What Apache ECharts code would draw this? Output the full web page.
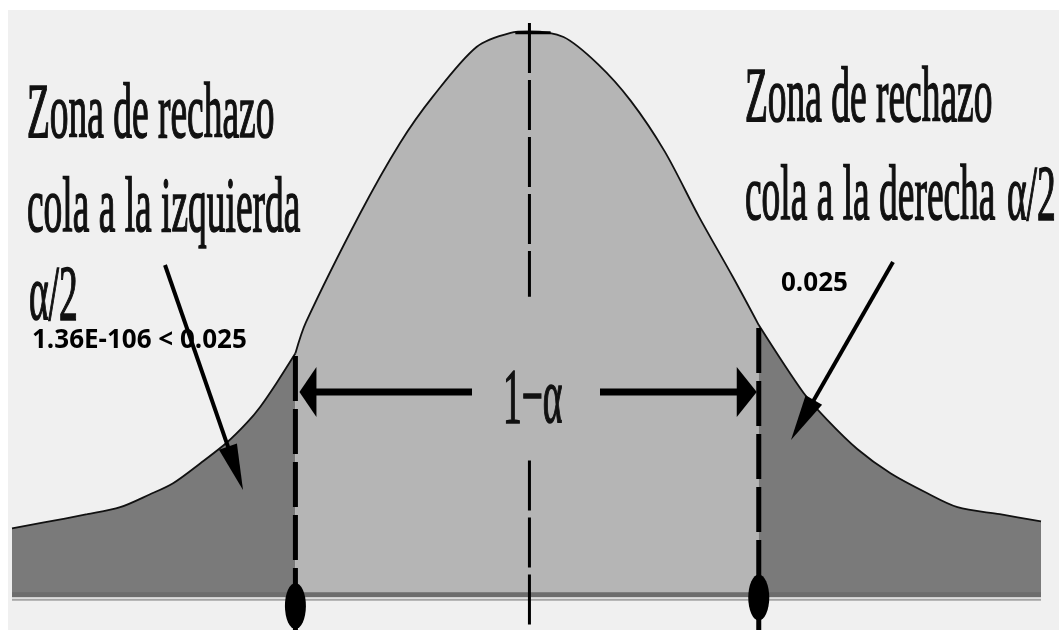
<!DOCTYPE html>
<html><head><meta charset="utf-8">
<script src="https://cdn.jsdelivr.net/npm/echarts@6/dist/echarts.min.js"></script>
<style>
html,body{margin:0;padding:0;background:#fff;}
#bg{position:absolute;left:8px;top:10px;width:1051px;height:620px;background:#f0f0f0;}
#chart{position:absolute;left:0;top:0;width:1059px;height:630px;}
</style></head><body>
<div id="bg"></div><div id="chart"></div>
<script>
// Curve (z units, density-like height)
const zValues = [-4.40,-4.14,-3.76,-3.48,-3.23,-3.03,-2.80,-2.57,-2.40,-2.29,-2.15,-1.99,-1.90,-1.44,-1.10,-0.82,-0.45,-0.16,0,0.29,0.58,0.86,1.15,1.44,1.73,1.95,2.33,2.53,2.79,3.07,3.38,3.64,4.00,4.35];
const density = [0.047,0.051,0.057,0.062,0.071,0.079,0.093,0.108,0.122,0.133,0.150,0.171,0.193,0.270,0.320,0.353,0.388,0.398,0.399,0.395,0.376,0.350,0.314,0.268,0.225,0.191,0.143,0.124,0.103,0.086,0.072,0.062,0.057,0.052];
const criticalValues = [-1.99, 1.95];
const dotLevels = [-0.008, -0.002];
const centerLineSpans = [[0.405, 0.211], [0.095, -0.025]];
const peakTick = [-0.12, 0.18];
const tailValueLabels = ['1.36E-106 < 0.025', '0.025'];
const zoneTitle = 'Zona de rechazo';
const leftTailText = 'cola a la izquierda';
const rightTailText = 'cola a la derecha';
const halfAlpha = 'α/2';
const centerText = '1−α';

const pts = zValues.map((z, i) => [z, density[i]]);
const leftPts = pts.filter(p => p[0] <= criticalValues[0]);
const midPts = pts.filter(p => p[0] >= criticalValues[0] && p[0] <= criticalValues[1]);
const rightPts = pts.filter(p => p[0] >= criticalValues[1]);
const yAt = z => density[zValues.indexOf(z)];

const chart = echarts.init(document.getElementById('chart'), null, {renderer: 'canvas'});
const curveLine = {color: '#111', width: 1.8};
const series = [
  {type: 'line', data: leftPts, smooth: 0.3, symbol: 'none', lineStyle: curveLine, areaStyle: {color: '#7a7a7a', opacity: 1}, z: 2},
  {type: 'line', data: midPts, smooth: 0.3, symbol: 'none', lineStyle: curveLine, areaStyle: {color: '#b5b5b5', opacity: 1}, z: 2},
  {type: 'line', data: rightPts, smooth: 0.3, symbol: 'none', lineStyle: curveLine, areaStyle: {color: '#7a7a7a', opacity: 1}, z: 2},
  {type: 'line', data: [[zValues[0], 0], [zValues[zValues.length-1], 0]], symbol: 'none', lineStyle: {color: '#6d6d6d', width: 5}, z: 3},
  {type: 'line', data: [[zValues[0], -0.0035], [zValues[zValues.length-1], -0.0035]], symbol: 'none', lineStyle: {color: '#a5a5a5', width: 2}, z: 3}
];
criticalValues.forEach((c, i) => {
  series.push({type: 'line', data: [[c, yAt(c) - 0.002], [c, -0.025]], symbol: 'none', clip: false,
    lineStyle: {color: '#000', width: 5, type: [45, 8]}, z: 5});
  series.push({type: 'scatter', data: [[c, dotLevels[i]]], symbol: 'circle', symbolSize: [21, 46],
    itemStyle: {color: '#000', opacity: 1}, z: 6});
});
centerLineSpans.forEach(s => {
  series.push({type: 'line', data: [[0, s[0]], [0, s[1]]], symbol: 'none', clip: false,
    lineStyle: {color: '#000', width: 3, type: [50, 7]}, z: 5});
});
series.push({type: 'line', data: [[peakTick[0], 0.398], [peakTick[1], 0.398]], symbol: 'none', clip: false,
  lineStyle: {color: '#000', width: 3}, z: 5});

chart.setOption({
  animation: false,
  backgroundColor: 'transparent',
  grid: {left: 12, right: 18, top: 30, bottom: 0},
  xAxis: {type: 'value', min: -4.4, max: 4.35, show: false},
  yAxis: {type: 'value', min: -0.025, max: 0.4, show: false},
  series: series
});

function arrowEls(x1, y1, x2, y2, w, headLen, headW) {
  const dx = x2 - x1, dy = y2 - y1, L = Math.hypot(dx, dy);
  const ux = dx / L, uy = dy / L, px = -uy, py = ux;
  const bx = x2 - ux * headLen, by = y2 - uy * headLen;
  return [
    {type: 'line', z: 50, silent: true, shape: {x1: x1, y1: y1, x2: bx + ux * 2, y2: by + uy * 2}, style: {stroke: '#000', lineWidth: w}},
    {type: 'polygon', z: 50, silent: true, shape: {points: [[x2, y2], [bx + px * headW / 2, by + py * headW / 2], [bx - px * headW / 2, by - py * headW / 2]]}, style: {fill: '#000'}}
  ];
}
const serifFont = '78px "Liberation Serif", "DejaVu Serif", serif';
function serifText(txt, x, y) {
  return {type: 'text', z: 60, silent: true, x: x, y: y, scaleX: 0.48,
    style: {text: txt, font: serifFont, fill: '#111', stroke: '#111', lineWidth: 1.6, textAlign: 'left', verticalAlign: 'middle'}};
}
function sansText(txt, x, y) {
  return {type: 'text', z: 60, silent: true, x: x, y: y,
    style: {text: txt, font: 'bold 26px "Open Sans", Lato, sans-serif', fill: '#000', textAlign: 'left', verticalAlign: 'middle'}};
}
const cl = chart.convertToPixel({gridIndex: 0}, [criticalValues[0], 0]);
const cr = chart.convertToPixel({gridIndex: 0}, [criticalValues[1], 0]);
const ay = 392;
const els = [].concat(
  arrowEls(472, ay, cl[0] + 4, ay, 7, 17, 50),
  arrowEls(600, ay, cr[0] - 2, ay, 7, 20, 50),
  arrowEls(165, 265, 243, 490, 4, 46, 19),
  arrowEls(893, 262, 791, 440, 4, 46, 19),
  [
    serifText(zoneTitle, 27, 117),
    serifText(leftTailText, 27, 211),
    serifText(halfAlpha, 29, 299),
    serifText(zoneTitle, 745, 101),
    serifText(rightTailText, 745, 199),
    serifText(halfAlpha, 1007, 199),
    serifText(centerText, 503, 402),
    sansText(tailValueLabels[0], 32, 341),
    sansText(tailValueLabels[1], 781, 284)
  ]
);
chart.setOption({graphic: {elements: els}});
</script>
</body></html>
